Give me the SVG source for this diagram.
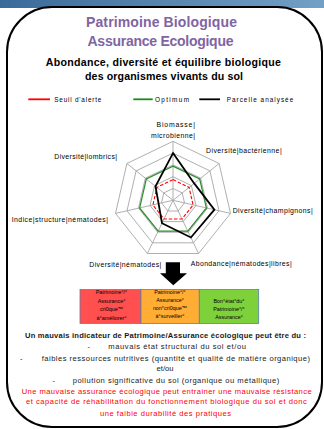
<svg xmlns="http://www.w3.org/2000/svg" width="324" height="429" viewBox="0 0 324 429">
<defs>
<linearGradient id="bar" x1="0" y1="0" x2="1" y2="0">
<stop offset="0" stop-color="#3a6a98"/>
<stop offset="1" stop-color="#72a0c6"/>
</linearGradient>
<style>
text{font-family:"Liberation Sans",Arial,sans-serif;}
.title{font-size:14px;font-weight:bold;fill:#8064a2;text-anchor:middle;}
.sub{font-size:10.6px;font-weight:bold;fill:#000;text-anchor:middle;}
.leg{font-size:6.4px;fill:#000;}
.lab{font-size:6.9px;fill:#000;}
.box{font-size:5.4px;fill:#000;text-anchor:middle;}
.note{font-size:7.6px;fill:#1a1a1a;}
.red{font-size:7.6px;fill:#ff0000;}
.grid{fill:none;stroke:#a6a6a6;stroke-width:0.9;}
.boxr{stroke:#5b7fae;stroke-width:0.8;}
</style>
</defs>
<rect x="0" y="0" width="324" height="429" fill="#ffffff"/>
<rect x="0" y="0" width="324" height="8" fill="url(#bar)"/>
<g id="frame">
<rect x="7" y="7" width="315" height="420" rx="45" ry="45" fill="#ffffff" stroke="#000" stroke-width="2"/>
</g>
<g id="title">
<text class="title" x="161.5" y="27" textLength="151">Patrimoine Biologique</text>
<text class="title" x="160.5" y="46" textLength="146">Assurance Ecologique</text>
<text class="sub" x="163.3" y="66" textLength="235">Abondance, diversité et équilibre biologique</text>
<text class="sub" x="164" y="80" textLength="158">des organismes vivants du sol</text>
</g>
<g id="legend">
<line x1="28.3" y1="99.3" x2="50" y2="99.3" stroke="#ff0000" stroke-width="1.8"/>
<text class="leg" x="54.3" y="101.5" textLength="47">Seuil d'alerte</text>
<line x1="133.3" y1="99.3" x2="152.7" y2="99.3" stroke="#1a8a1a" stroke-width="1.8"/>
<text class="leg" x="155" y="101.5" textLength="34">Optimum</text>
<line x1="199.3" y1="99.3" x2="220" y2="99.3" stroke="#000" stroke-width="1.8"/>
<text class="leg" x="226.7" y="101.5" textLength="66.5">Parcelle analysée</text>
</g>
<g id="radar">
<g id="grid">
<polygon class="grid" points="173,141.3 219.1,163.5 230.5,213.4 198.6,253.5 147.4,253.5 115.5,213.4 126.9,163.5"/>
<polygon class="grid" points="173,153.1 209.9,170.9 219.0,210.8 193.5,242.8 152.5,242.8 127.0,210.8 136.1,170.9"/>
<polygon class="grid" points="173,164.9 200.7,178.2 207.5,208.2 188.4,232.2 157.6,232.2 138.5,208.2 145.3,178.2"/>
<polygon class="grid" points="173,176.7 191.4,185.6 196.0,205.5 183.2,221.6 162.8,221.6 150.0,205.5 154.6,185.6"/>
<polygon class="grid" points="173,188.5 182.2,192.9 184.5,202.9 178.1,211.0 167.9,211.0 161.5,202.9 163.8,192.9"/>
<path class="grid" d="M173,200.3L173,141.3M173,200.3L219.1,163.5M173,200.3L230.5,213.4M173,200.3L198.6,253.5M173,200.3L147.4,253.5M173,200.3L115.5,213.4M173,200.3L126.9,163.5"/>
</g>
<polygon points="173,179.6 189.1,187.4 193.1,205.0 182.0,219.0 164.0,219.0 152.9,205.0 156.9,187.4" fill="none" stroke="#ff0000" stroke-width="1.1" stroke-dasharray="3.5 1.8"/>
<polygon points="173,166.1 199.7,179.0 206.4,208.0 187.8,231.1 158.2,231.1 139.6,208.0 146.3,179.0" fill="none" stroke="#2e8b2e" stroke-width="1.2"/>
<polygon points="173,153.1 194.2,183.4 214.4,209.7 190.9,237.5 162.0,223.2 158.6,203.6 155.5,186.3" fill="none" stroke="#000" stroke-width="1.8" stroke-linejoin="miter"/>
<g id="labels">
<text class="lab" x="156.5" y="127" textLength="38.5">Biomasse|</text>
<text class="lab" x="151" y="137.5" textLength="44">microbienne|</text>
<text class="lab" x="206" y="152.5" textLength="75.7">Diversité|bactérienne|</text>
<text class="lab" x="54.3" y="159" textLength="62.7">Diversité|lombrics|</text>
<text class="lab" x="232.7" y="213" textLength="80">Diversité|champignons|</text>
<text class="lab" x="11.7" y="221.5" textLength="96.3">Indice|structure|nématodes|</text>
<text class="lab" x="89.3" y="267" textLength="72">Diversité|nématodes|</text>
<text class="lab" x="190.7" y="266" textLength="101">Abondance|nématodes|libres|</text>
</g>
</g>
<g id="connectors">
<polygon points="165.8,262.3 180,262.3 180,273.3 187,273.3 173.3,285.3 160,273.3 165.8,273.3" fill="#000"/>
</g>
<g id="box-critique">
<rect class="boxr" x="80" y="289.5" width="61" height="34" fill="#ff4f4f"/>
<text class="box" x="111.5" y="294">Patrimoine°/°</text>
<text class="box" x="111.5" y="302.5">Assurance°</text>
<text class="box" x="111.5" y="311">cri0que™</text>
<text class="box" x="111.5" y="319.5">à°améliorer°</text>
</g>
<g id="box-surveiller">
<rect class="boxr" x="141" y="289.5" width="58.3" height="34" fill="#ffad35"/>
<text class="box" x="170" y="293.8">Patrimoine°/°</text>
<text class="box" x="170" y="301.8">Assurance°</text>
<text class="box" x="170" y="310.2">non°cri0que™</text>
<text class="box" x="170" y="318.3">à°surveiller°</text>
</g>
<g id="box-bon">
<rect class="boxr" x="199.3" y="289.5" width="59.4" height="34" fill="#7fd13b"/>
<text class="box" x="229" y="302.5">Bon°état°du°</text>
<text class="box" x="229" y="310.5">Patrimoine°/°</text>
<text class="box" x="229" y="318.5">Assurance°</text>
</g>
<g id="notes">
<text class="note" x="25" y="338.3" textLength="281" font-weight="bold">Un mauvais indicateur de Patrimoine/Assurance écologique peut être du :</text>
<text class="note" x="87.5" y="349.3">-</text>
<text class="note" x="108.3" y="349.3" textLength="137.7">mauvais état structural du sol et/ou</text>
<text class="note" x="20" y="361">-</text>
<text class="note" x="41.7" y="361" textLength="268.3">faibles ressources nutritives (quantité et qualité de matière organique)</text>
<text class="note" x="165" y="371" text-anchor="middle">et/ou</text>
<text class="note" x="52.5" y="383.3">-</text>
<text class="note" x="72.7" y="383.3" textLength="206.6">pollution significative du sol (organique ou métallique)</text>
<text class="red" x="21.7" y="393.8" textLength="290">Une mauvaise assurance écologique peut entrainer une mauvaise résistance</text>
<text class="red" x="26" y="404.4" textLength="280.7">et capacité de réhabilitation du fonctionnement biologique du sol et donc</text>
<text class="red" x="100" y="415.8" textLength="131">une faible durabilité des pratiques</text>
</g>
</svg>
